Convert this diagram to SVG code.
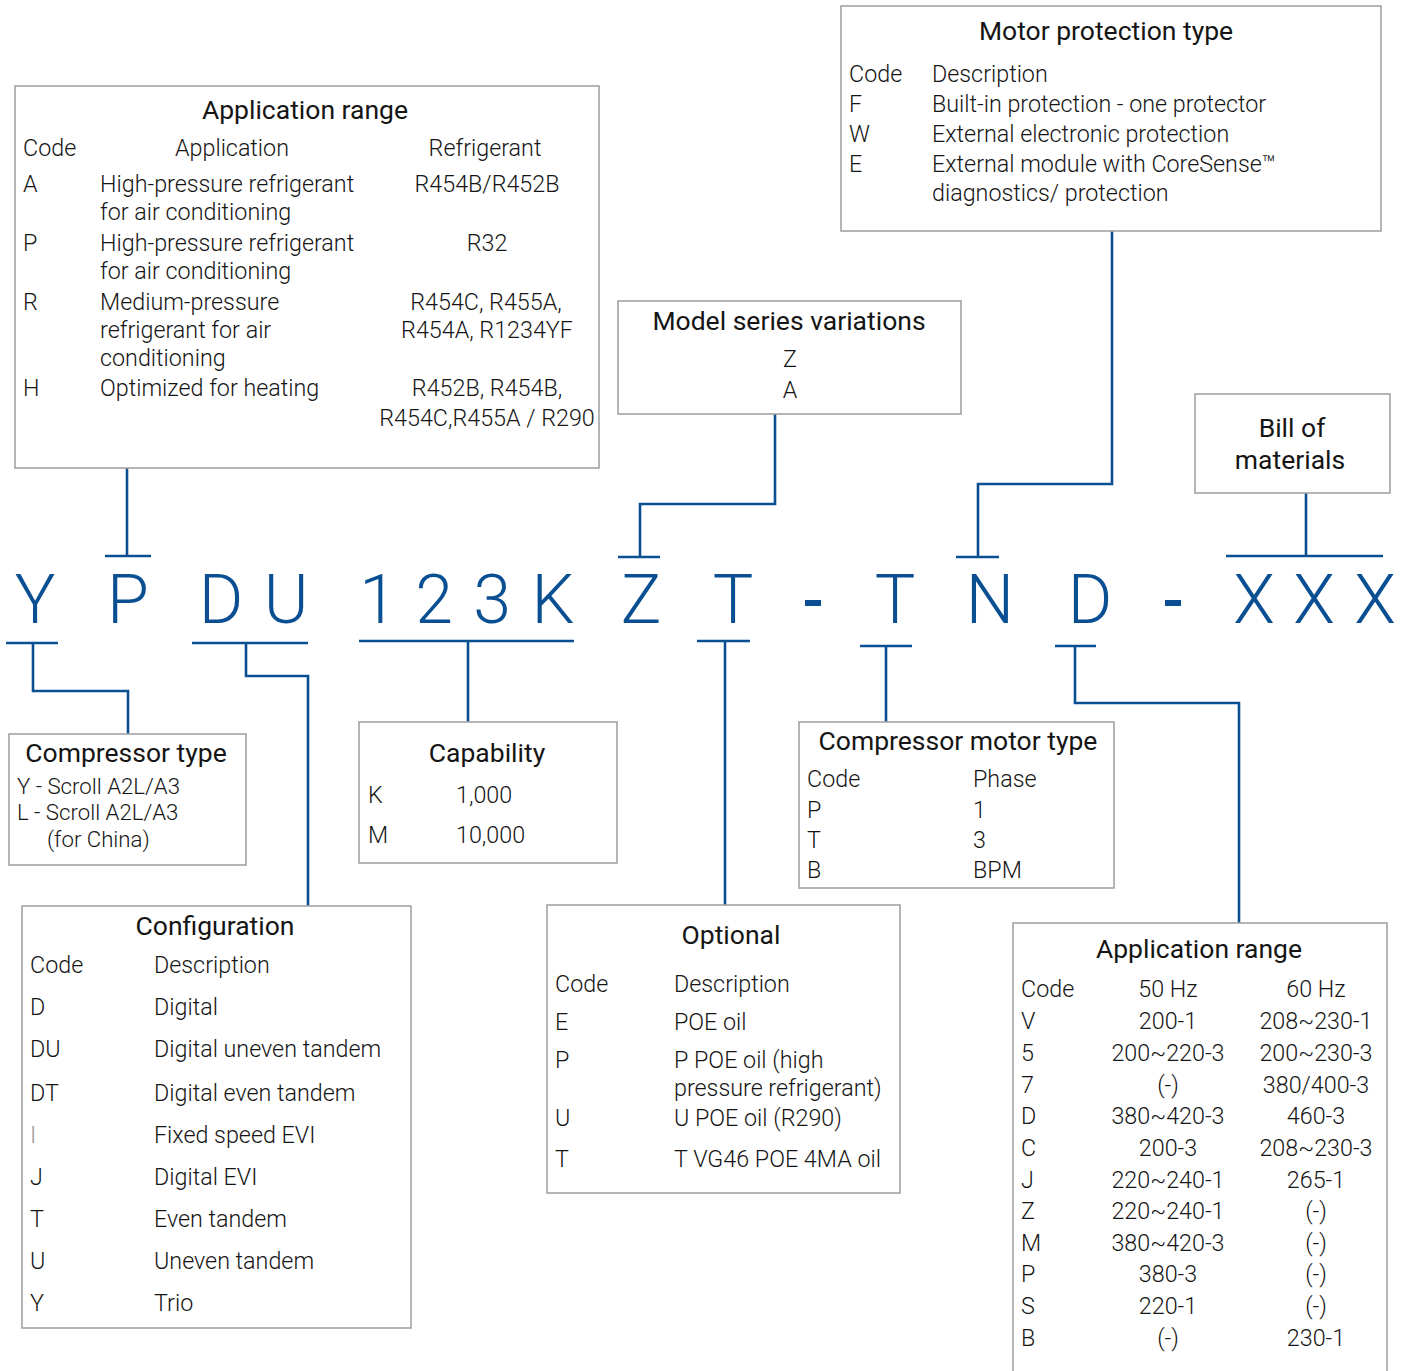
<svg xmlns="http://www.w3.org/2000/svg" width="1408" height="1371" viewBox="0 0 1408 1371">
<style>
.box{fill:#fff;stroke:#a3a3a3;stroke-width:1.6}
.t{font-family:Roboto,"Liberation Sans",sans-serif;font-weight:300;font-size:23.3px;fill:#151515}
.s{font-size:22.2px}
.h{font-family:Roboto,"Liberation Sans",sans-serif;font-weight:400;font-size:26.5px;fill:#151515}
.c{text-anchor:middle}
.big{font-family:Roboto,"Liberation Sans",sans-serif;font-weight:300;font-size:68px;fill:#0b4f93;text-anchor:middle}
.ln{fill:none;stroke:#0b4f93;stroke-width:2.6}
</style>
<rect width="1408" height="1371" fill="#fff"/>

<g id="connectors">
<path class="ln" d="M127 468V556M105 556H151"/>
<path class="ln" d="M775 414V504H640V557M618 557H660"/>
<path class="ln" d="M1112 231V484H978V557M956 557H999"/>
<path class="ln" d="M1306 493V556M1226 556H1383"/>
<path class="ln" d="M6 643H58M33 643V691H128V734"/>
<path class="ln" d="M192 643H308M246 643V676H308V906"/>
<path class="ln" d="M359 641H574M468 641V722"/>
<path class="ln" d="M697 641H750M725 641V905"/>
<path class="ln" d="M860 646H912M886 646V722"/>
<path class="ln" d="M1055 646H1096M1075 646V703H1239V923"/>
</g>

<g id="code">
<text class="big" x="35" y="623">Y</text>
<text class="big" x="128" y="623">P</text>
<text class="big" x="221" y="623">D</text>
<text class="big" x="286" y="623">U</text>
<text class="big" x="378" y="623">1</text>
<text class="big" x="434" y="623">2</text>
<text class="big" x="492" y="623">3</text>
<text class="big" x="553" y="623">K</text>
<text class="big" x="641" y="623">Z</text>
<text class="big" x="733" y="623">T</text>
<rect x="805" y="600" width="16" height="6" fill="#0b4f93"/>
<text class="big" x="895" y="623">T</text>
<text class="big" x="990" y="623">N</text>
<text class="big" x="1090" y="623">D</text>
<rect x="1165" y="600" width="16" height="6" fill="#0b4f93"/>
<text class="big" x="1254" y="623">X</text>
<text class="big" x="1314" y="623">X</text>
<text class="big" x="1375" y="623">X</text>
</g>

<g id="app-range-top">
<rect class="box" x="15" y="86" width="584" height="382"/>
<text class="h c" x="305" y="119">Application range</text>
<text class="t" x="23" y="156">Code</text>
<text class="t c" x="232" y="156">Application</text>
<text class="t c" x="485" y="156">Refrigerant</text>
<text class="t" x="23" y="192">A</text>
<text class="t" x="100" y="192">High-pressure refrigerant</text>
<text class="t" x="100" y="220">for air conditioning</text>
<text class="t c" x="487" y="192">R454B/R452B</text>
<text class="t" x="23" y="251">P</text>
<text class="t" x="100" y="251">High-pressure refrigerant</text>
<text class="t" x="100" y="279">for air conditioning</text>
<text class="t c" x="487" y="251">R32</text>
<text class="t" x="23" y="310">R</text>
<text class="t" x="100" y="310">Medium-pressure</text>
<text class="t" x="100" y="338">refrigerant for air</text>
<text class="t" x="100" y="366">conditioning</text>
<text class="t c" x="486" y="310">R454C, R455A,</text>
<text class="t c" x="487" y="338">R454A, R1234YF</text>
<text class="t" x="23" y="396">H</text>
<text class="t" x="100" y="396">Optimized for heating</text>
<text class="t c" x="487" y="396">R452B, R454B,</text>
<text class="t c" x="487" y="426">R454C,R455A / R290</text>
</g>

<g id="motor-protection">
<rect class="box" x="841" y="6" width="540" height="225"/>
<text class="h c" x="1106" y="40">Motor protection type</text>
<text class="t" x="849" y="82">Code</text>
<text class="t" x="932" y="82">Description</text>
<text class="t" x="849" y="112">F</text>
<text class="t" x="932" y="112">Built-in protection - one protector</text>
<text class="t" x="849" y="142">W</text>
<text class="t" x="932" y="142">External electronic protection</text>
<text class="t" x="849" y="172">E</text>
<text class="t" x="932" y="172">External module with CoreSense™</text>
<text class="t" x="932" y="201">diagnostics/ protection</text>
</g>

<g id="model-series">
<rect class="box" x="618" y="301" width="343" height="113"/>
<text class="h c" x="789" y="330">Model series variations</text>
<text class="t c" x="790" y="367">Z</text>
<text class="t c" x="790" y="398">A</text>
</g>

<g id="bill-of-materials">
<rect class="box" x="1195" y="394" width="195" height="99"/>
<text class="h c" x="1292" y="437">Bill of</text>
<text class="h c" x="1290" y="469">materials</text>
</g>

<g id="compressor-type">
<rect class="box" x="9" y="734" width="237" height="131"/>
<text class="h c" x="126" y="762">Compressor type</text>
<text class="t s" x="17" y="794">Y - Scroll A2L/A3</text>
<text class="t s" x="17" y="820">L - Scroll A2L/A3</text>
<text class="t s" x="47" y="847">(for China)</text>
</g>

<g id="capability">
<rect class="box" x="359" y="722" width="258" height="141"/>
<text class="h c" x="487" y="762">Capability</text>
<text class="t" x="368" y="803">K</text>
<text class="t" x="456" y="803">1,000</text>
<text class="t" x="368" y="843">M</text>
<text class="t" x="456" y="843">10,000</text>
</g>

<g id="compressor-motor-type">
<rect class="box" x="799" y="722" width="315" height="166"/>
<text class="h c" x="958" y="750">Compressor motor type</text>
<text class="t" x="807" y="787">Code</text>
<text class="t" x="973" y="787">Phase</text>
<text class="t" x="807" y="818">P</text>
<text class="t" x="973" y="818">1</text>
<text class="t" x="807" y="848">T</text>
<text class="t" x="973" y="848">3</text>
<text class="t" x="807" y="878">B</text>
<text class="t" x="973" y="878">BPM</text>
</g>

<g id="configuration">
<rect class="box" x="22" y="906" width="389" height="422"/>
<text class="h c" x="215" y="935">Configuration</text>
<text class="t" x="30" y="973">Code</text>
<text class="t" x="154" y="973">Description</text>
<text class="t" x="30" y="1015">D</text>
<text class="t" x="154" y="1015">Digital</text>
<text class="t" x="30" y="1057">DU</text>
<text class="t" x="154" y="1057">Digital uneven tandem</text>
<text class="t" x="30" y="1101">DT</text>
<text class="t" x="154" y="1101">Digital even tandem</text>
<text class="t" x="30" y="1143" style="fill:#9a9a9a">I</text>
<text class="t" x="154" y="1143">Fixed speed EVI</text>
<text class="t" x="30" y="1185">J</text>
<text class="t" x="154" y="1185">Digital EVI</text>
<text class="t" x="30" y="1227">T</text>
<text class="t" x="154" y="1227">Even tandem</text>
<text class="t" x="30" y="1269">U</text>
<text class="t" x="154" y="1269">Uneven tandem</text>
<text class="t" x="30" y="1311">Y</text>
<text class="t" x="154" y="1311">Trio</text>
</g>

<g id="optional">
<rect class="box" x="547" y="905" width="353" height="288"/>
<text class="h c" x="731" y="944">Optional</text>
<text class="t" x="555" y="992">Code</text>
<text class="t" x="674" y="992">Description</text>
<text class="t" x="555" y="1030">E</text>
<text class="t" x="674" y="1030">POE oil</text>
<text class="t" x="555" y="1068">P</text>
<text class="t" x="674" y="1068">P POE oil (high</text>
<text class="t" x="674" y="1096">pressure refrigerant)</text>
<text class="t" x="555" y="1126">U</text>
<text class="t" x="674" y="1126">U POE oil (R290)</text>
<text class="t" x="555" y="1167">T</text>
<text class="t" x="674" y="1167">T VG46 POE 4MA oil</text>
</g>

<g id="app-range-bottom">
<rect class="box" x="1013" y="923" width="374" height="470"/>
<text class="h c" x="1199" y="958">Application range</text>
<text class="t" x="1021" y="997">Code</text>
<text class="t c" x="1168" y="997">50 Hz</text>
<text class="t c" x="1316" y="997">60 Hz</text>
<text class="t" x="1021" y="1029">V</text><text class="t c" x="1168" y="1029">200-1</text><text class="t c" x="1316" y="1029">208~230-1</text>
<text class="t" x="1021" y="1061">5</text><text class="t c" x="1168" y="1061">200~220-3</text><text class="t c" x="1316" y="1061">200~230-3</text>
<text class="t" x="1021" y="1093">7</text><text class="t c" x="1168" y="1093">(-)</text><text class="t c" x="1316" y="1093">380/400-3</text>
<text class="t" x="1021" y="1124">D</text><text class="t c" x="1168" y="1124">380~420-3</text><text class="t c" x="1316" y="1124">460-3</text>
<text class="t" x="1021" y="1156">C</text><text class="t c" x="1168" y="1156">200-3</text><text class="t c" x="1316" y="1156">208~230-3</text>
<text class="t" x="1021" y="1188">J</text><text class="t c" x="1168" y="1188">220~240-1</text><text class="t c" x="1316" y="1188">265-1</text>
<text class="t" x="1021" y="1219">Z</text><text class="t c" x="1168" y="1219">220~240-1</text><text class="t c" x="1316" y="1219">(-)</text>
<text class="t" x="1021" y="1251">M</text><text class="t c" x="1168" y="1251">380~420-3</text><text class="t c" x="1316" y="1251">(-)</text>
<text class="t" x="1021" y="1282">P</text><text class="t c" x="1168" y="1282">380-3</text><text class="t c" x="1316" y="1282">(-)</text>
<text class="t" x="1021" y="1314">S</text><text class="t c" x="1168" y="1314">220-1</text><text class="t c" x="1316" y="1314">(-)</text>
<text class="t" x="1021" y="1346">B</text><text class="t c" x="1168" y="1346">(-)</text><text class="t c" x="1316" y="1346">230-1</text>
</g>
</svg>
